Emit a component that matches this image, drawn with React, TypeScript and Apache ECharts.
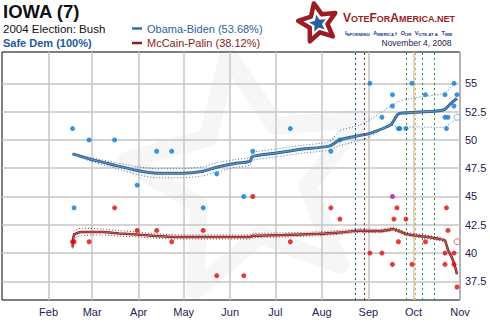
import React, { useEffect, useRef } from 'react';
import * as echarts from 'echarts';

// ---- data ----
const obamaTrendDates = ['2008-02-17','2008-02-28','2008-03-17','2008-03-31','2008-04-13','2008-04-30','2008-05-14','2008-05-23','2008-06-05','2008-06-14','2008-06-16','2008-07-02','2008-07-17','2008-08-06','2008-08-13','2008-08-26','2008-09-02','2008-09-16','2008-09-21','2008-10-03','2008-10-21','2008-10-26','2008-10-30'];
const obamaTrend = [48.76,48.32,47.73,47.29,47.05,47.05,47.23,47.58,47.93,48.1,48.55,48.85,49.15,49.45,50.0,50.38,50.58,51.35,52.3,52.44,52.65,53.23,53.68];
const obamaUpper = [48.8,48.47,47.98,47.64,47.45,47.45,47.63,47.98,48.28,48.45,48.9,49.2,49.5,49.85,50.82,51.3,51.8,53.0,53.4,53.75,54.1,54.65,55.0];
const obamaLower = [48.72,48.17,47.48,46.94,46.65,46.65,46.83,47.18,47.58,47.75,48.2,48.5,48.8,49.1,49.5,49.95,50.3,51.3,51.1,51.15,51.1,51.5,51.85];

const mccainTrendDates = ['2008-02-17','2008-02-18','2008-02-23','2008-03-08','2008-03-19','2008-03-31','2008-04-08','2008-04-21','2008-05-05','2008-06-14','2008-06-16','2008-07-06','2008-07-30','2008-08-13','2008-08-26','2008-09-08','2008-09-15','2008-09-17','2008-09-22','2008-09-26','2008-10-07','2008-10-18','2008-10-22','2008-10-24','2008-10-27','2008-10-29','2008-10-30'];
const mccainTrend = [40.5,41.6,41.86,41.86,41.73,41.64,41.55,41.44,41.41,41.41,41.53,41.59,41.7,41.82,41.97,41.94,42.06,42.12,41.91,41.68,41.47,41.24,41.09,40.29,39.47,38.67,38.12];
const mccainUpper = [40.6,41.95,42.2,42.12,41.98,41.86,41.75,41.64,41.6,41.6,41.72,41.78,41.88,42.0,42.14,42.1,42.22,42.28,42.07,41.84,41.63,41.4,41.25,40.45,39.63,38.83,38.28];
const mccainLower = [40.4,41.3,41.55,41.6,41.5,41.42,41.35,41.26,41.24,41.24,41.36,41.42,41.54,41.66,41.82,41.8,41.92,41.98,41.76,41.54,41.33,41.1,40.95,40.15,39.33,38.53,38.0];

const obamaPollDates = ['2008-02-17','2008-02-18','2008-02-28','2008-03-16','2008-03-31','2008-04-13','2008-04-23','2008-05-14','2008-05-23','2008-06-10','2008-06-16','2008-07-11','2008-08-07','2008-08-13','2008-09-02','2008-09-10','2008-09-17','2008-09-17','2008-09-21','2008-09-22','2008-09-26','2008-09-30','2008-10-09','2008-10-22','2008-10-22','2008-10-24','2008-10-23','2008-10-28','2008-10-28','2008-10-30'];
const obamaPolls = [51,44,50,50,46,49,49,44,47,45,49,51,49,50,55,52,54,53,51,51,51,55,54,54,52,52,51,55,53,54];
const mccainPollDates = ['2008-02-17','2008-02-18','2008-02-28','2008-03-16','2008-03-31','2008-04-13','2008-04-23','2008-05-14','2008-05-23','2008-06-10','2008-06-16','2008-07-11','2008-08-07','2008-08-13','2008-09-02','2008-09-10','2008-09-17','2008-09-18','2008-09-20','2008-09-21','2008-09-26','2008-09-30','2008-10-09','2008-10-22','2008-10-22','2008-10-23','2008-10-24','2008-10-28','2008-10-28','2008-10-30'];
const mccainPolls = [41,41,41,44,42,42,41,42,38,38,45,41,44,43,40,40,39,43,44,41,43,39,41,40,39,44,42,40,39,37];
const tiePollDates = ['2008-09-17'];
const tiePolls = [45];
const latestDates = ['2008-10-30'];
const obamaLatest = [52];
const mccainLatest = [41];

const eventDates = ['2008-08-23','2008-08-29','2008-09-26','2008-10-02','2008-10-07','2008-10-15'];
const eventColors = ['#1b4f8c','#a0141e','#1d9a2a','#f0a010','#1d9a2a','#1d9a2a'];

const monthTicks = ['2008-02-01','2008-03-01','2008-04-01','2008-05-01','2008-06-01','2008-07-01','2008-08-01','2008-09-01','2008-10-01','2008-11-01'];
const monthLabels = ['Feb','Mar','Apr','May','Jun','Jul','Aug','Sep','Oct','Nov'];
const yTicks = [37.5, 40, 42.5, 45, 47.5, 50, 52.5, 55];

const FONT = '"Liberation Sans", Arial, sans-serif';

function ts(s: string) {
  const [y, m, d] = s.split('-').map(Number);
  return Date.UTC(y, m - 1, d) / 86400000;
}
function zip(dates: string[], vals: number[]) {
  return dates.map((d, i) => [ts(d), vals[i]]);
}
function starPoints(cx: number, cy: number, R: number, r: number, rot: number) {
  const pts: number[][] = [];
  for (let i = 0; i < 10; i++) {
    const a = ((-90 + rot + i * 36) * Math.PI) / 180;
    const rad = i % 2 ? r : R;
    pts.push([cx + rad * Math.cos(a), cy + rad * Math.sin(a)]);
  }
  return pts;
}

export default function App() {
  const ref = useRef<HTMLDivElement>(null);
  useEffect(() => {
    const chart = echarts.init(ref.current!, null, { renderer: 'svg' });
    const monthTs = monthTicks.map(ts);
    const band = (data: number[][], color: string) => ({
      type: 'line', data, symbol: 'none', smooth: 0.2, silent: true, z: 3,
      lineStyle: { color, width: 1, type: [1, 2] },
    });
    chart.setOption({
      animation: false,
      backgroundColor: '#ffffff',
      grid: { left: 2, right: 30, top: 52, bottom: 30, show: true, borderColor: '#000', borderWidth: 1 },
      xAxis: {
        type: 'value',
        min: ts('2008-01-01'),
        max: ts('2008-11-01'),
        axisLine: { show: false },
        axisTick: { show: false, customValues: monthTs },
        axisLabel: {
          customValues: monthTs,
          formatter: (v: number) => {
            const i = monthTs.findIndex((t) => Math.abs(t - v) < 0.5);
            return i >= 0 ? monthLabels[i] : '';
          },
          color: '#1c2350', fontSize: 11, fontFamily: FONT, margin: 6,
        },
        splitLine: { show: true, lineStyle: { color: '#c6c6c6', width: 1.5 } },
      },
      yAxis: {
        type: 'value',
        position: 'right',
        min: 35.85,
        max: 57.77,
        axisLine: { show: false },
        axisTick: { show: false, customValues: yTicks },
        axisLabel: { customValues: yTicks, color: '#1c2350', fontSize: 11, fontFamily: FONT, margin: 5 },
        splitLine: { show: true, lineStyle: { color: '#c6c6c6', width: 1.5 } },
      },
      graphic: [
        { type: 'polygon', z: -5, silent: true, shape: { points: starPoints(250, 178, 125, 58, -10) }, style: { fill: 'none', stroke: '#f6f6f6', lineWidth: 18, lineJoin: 'round' } },
        { type: 'text', x: 3, y: 11.5, style: { text: 'IOWA (7)', font: `bold 18.5px ${FONT}`, fill: '#111', textVerticalAlign: 'middle' } },
        { type: 'text', x: 3, y: 28.7, style: { text: '2004 Election: Bush', font: `11.5px ${FONT}`, fill: '#111', textVerticalAlign: 'middle' } },
        { type: 'text', x: 3, y: 43, style: { text: 'Safe Dem (100%)', font: `bold 11px ${FONT}`, fill: '#1d5a9c', textVerticalAlign: 'middle' } },
        { type: 'line', shape: { x1: 132, y1: 28.5, x2: 142, y2: 28.5 }, style: { stroke: '#2f6fa8', lineWidth: 2.5 } },
        { type: 'text', x: 147, y: 28.5, style: { text: 'Obama-Biden (53.68%)', font: `11px ${FONT}`, fill: '#2b62a0', textVerticalAlign: 'middle' } },
        { type: 'line', shape: { x1: 132, y1: 43, x2: 142, y2: 43 }, style: { stroke: '#8e1b1b', lineWidth: 2.5 } },
        { type: 'text', x: 147, y: 43, style: { text: 'McCain-Palin (38.12%)', font: `11px ${FONT}`, fill: '#8e1b1b', textVerticalAlign: 'middle' } },
        { type: 'polygon', shape: { points: starPoints(318, 23, 20, 9.5, -12) }, style: { fill: '#fff', stroke: '#9c1c24', lineWidth: 4.5, lineJoin: 'round' } },
        { type: 'polygon', shape: { points: starPoints(318, 23.5, 9, 4, -12) }, style: { fill: '#2c5e9c' } },
        {
          type: 'text', x: 343, y: 18.5,
          style: {
            text: '{a|V}{b|OTE}{a|F}{b|OR}{a|A}{b|MERICA.NET}',
            fill: '#9c1c24', textVerticalAlign: 'middle',
            rich: {
              a: { font: `bold 12px ${FONT}`, fill: '#9c1c24', verticalAlign: 'bottom', lineHeight: 10 },
              b: { font: `bold 9px ${FONT}`, fill: '#9c1c24', verticalAlign: 'bottom', lineHeight: 10 },
            },
          },
        },
        {
          type: 'text', x: 345, y: 30,
          style: {
            text: '{a|I}{b|NFORMING} {a|A}{b|MERICA}, {a|O}{b|UR} {a|V}{b|OTE AT A} {a|T}{b|IME}',
            fill: '#1a3a8a', textVerticalAlign: 'middle',
            rich: {
              a: { font: `bold 5.5px ${FONT}`, fill: '#1a3a8a', verticalAlign: 'bottom', lineHeight: 5 },
              b: { font: `bold 4.3px ${FONT}`, fill: '#1a3a8a', verticalAlign: 'bottom', lineHeight: 5 },
            },
          },
        },
        { type: 'text', x: 381.5, y: 42.5, style: { text: 'November 4, 2008', font: `8.5px ${FONT}`, fill: '#1c2050', textVerticalAlign: 'middle' } },
      ],
      series: [
        {
          ...band(zip(obamaTrendDates, obamaUpper), '#3f7bb0'),
          z: 1,
          markLine: {
            silent: true, symbol: ['none', 'none'], label: { show: false },
            data: eventDates.map((d, i) => ({ xAxis: ts(d), lineStyle: { color: eventColors[i], width: 1, type: [2, 3] } })),
          },
        },
        band(zip(obamaTrendDates, obamaLower), '#3f7bb0'),
        { type: 'line', data: zip(obamaTrendDates, obamaTrend), symbol: 'none', smooth: 0.2, z: 4, lineStyle: { color: '#2e6596', width: 3 } },
        { type: 'line', data: zip(obamaTrendDates, obamaTrend), symbol: 'none', smooth: 0.2, z: 4, lineStyle: { color: '#6a97c2', width: 1 } },
        band(zip(mccainTrendDates, mccainUpper), '#a03a3a'),
        band(zip(mccainTrendDates, mccainLower), '#a03a3a'),
        { type: 'line', data: zip(mccainTrendDates, mccainTrend), symbol: 'none', smooth: 0.2, z: 4, lineStyle: { color: '#8b1c1c', width: 2.5 } },
        { type: 'line', data: zip(mccainTrendDates, mccainTrend), symbol: 'none', smooth: 0.2, z: 4, lineStyle: { color: '#c07a7a', width: 0.8 } },
        { type: 'scatter', data: zip(obamaPollDates, obamaPolls), symbolSize: 5, z: 6, itemStyle: { color: '#0b7bd3' } },
        { type: 'scatter', data: zip(mccainPollDates, mccainPolls), symbolSize: 5, z: 6, itemStyle: { color: '#dd0a0a' } },
        { type: 'scatter', data: zip(tiePollDates, tiePolls), symbolSize: 5, z: 6, itemStyle: { color: '#b512b5' } },
        { type: 'scatter', data: zip(latestDates, obamaLatest), symbolSize: 6, z: 6, itemStyle: { color: '#fff', borderColor: '#7a9cc0', borderWidth: 1 } },
        { type: 'scatter', data: zip(latestDates, mccainLatest), symbolSize: 6, z: 6, itemStyle: { color: '#fff', borderColor: '#b05050', borderWidth: 1 } },
      ],
    });
    return () => chart.dispose();
  }, []);
  return <div ref={ref} style={{ position: 'absolute', left: 0, top: 0, width: 490, height: 330 }} />;
}
